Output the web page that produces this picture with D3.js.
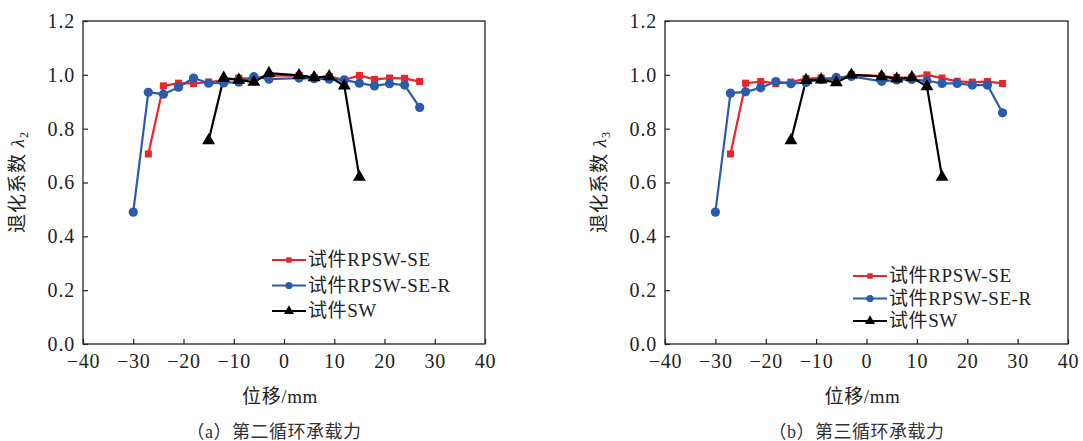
<!DOCTYPE html>
<html><head><meta charset="utf-8">
<script src="https://cdn.jsdelivr.net/npm/d3@7/dist/d3.min.js"></script>
<style>
body{margin:0;background:#fff;}
svg{display:block;}
</style></head>
<body><svg id="c" width="1083" height="441"></svg>
<script>
// ---- data ----
const xSE   = [-27,-24,-21,-18,-15,-12,-9,-6,-3,3,6,9,12,15,18,21,24,27];
const xSER  = [-30,-27,-24,-21,-18,-15,-12,-9,-6,-3,3,6,9,12,15,18,21,24,27];
const xSW   = [-15,-12,-9,-6,-3,3,6,9,12,15];
// (a) second cycle, lambda2
const a_SE  = [0.706,0.959,0.969,0.968,0.973,0.980,0.988,0.985,0.997,0.998,0.990,0.994,0.981,0.998,0.983,0.988,0.987,0.975];
const a_SER = [0.490,0.935,0.928,0.954,0.988,0.969,0.970,0.973,0.993,0.984,0.988,0.986,0.984,0.981,0.969,0.959,0.967,0.962,0.879];
const a_SW  = [0.756,0.988,0.981,0.973,1.006,0.998,0.990,0.994,0.959,0.620];
// (b) third cycle, lambda3
const b_SE  = [0.706,0.969,0.975,0.968,0.973,0.986,0.988,0.982,1.000,0.995,0.990,0.991,1.000,0.988,0.976,0.973,0.975,0.968];
const b_SER = [0.490,0.932,0.937,0.952,0.975,0.967,0.972,0.983,0.990,0.994,0.976,0.981,0.983,0.978,0.968,0.968,0.962,0.962,0.859];
const b_SW  = [0.756,0.980,0.982,0.971,1.000,0.994,0.985,0.990,0.957,0.620];
const xTicks = [-40,-30,-20,-10,0,10,20,30,40];
const yTicks = [0.0,0.2,0.4,0.6,0.8,1.0,1.2];
const seriesNames = ["试件RPSW-SE","试件RPSW-SE-R","试件SW"];
const colors = ["#e8262b","#2b5cab","#000000"];
const captions = ["（a）第二循环承载力","（b）第三循环承载力"];
const ySub = ["2","3"];

const FONT = "'Liberation Serif', 'Noto Sans CJK SC'";
const svg = d3.select("#c");
const sym = [d3.symbolSquare, d3.symbolCircle, d3.symbolTriangle];
const symSize = [50, 68, 72];

function txt(sel, size, ls){
  return sel.style("font-family", FONT)
    .style("font-size", size+"px").style("letter-spacing", (ls||0)+"px").attr("fill","#222");
}

function panel(opt){
  const x = d3.scaleLinear().domain([-40,40]).range([opt.x0, opt.x1]);
  const y = d3.scaleLinear().domain([0,1.2]).range([344, 21]);
  const g = svg.append("g");
  g.append("rect").attr("x",opt.x0).attr("y",y(1.2)).attr("width",opt.x1-opt.x0).attr("height",y(0)-y(1.2))
    .attr("fill","none").attr("stroke","#222").attr("stroke-width",1.3);
  const ax = g.append("g").attr("transform",`translate(0,${y(0)})`)
    .call(d3.axisBottom(x).tickValues(xTicks).tickSizeInner(-5).tickSizeOuter(0).tickPadding(10)
      .tickFormat(d=> d<0 ? "\u2212"+Math.abs(d) : d));
  const ay = g.append("g").attr("transform",`translate(${opt.x0},0)`)
    .call(d3.axisLeft(y).tickValues(yTicks).tickSizeInner(-5).tickSizeOuter(0).tickPadding(8)
      .tickFormat(d3.format(".1f")));
  [ax,ay].forEach(a=>{
    a.attr("font-family", null).attr("font-size", null);
    a.select(".domain").remove();
    a.selectAll("line").attr("stroke","#222").attr("stroke-width",1.2);
    txt(a.selectAll("text"), 20, 0.8);
  });
  const sets = [[xSE,opt.se],[xSER,opt.ser],[xSW,opt.sw]];
  const line = d3.line().x(d=>x(d[0])).y(d=>y(d[1]));
  sets.forEach((s,i)=>{
    const pts = s[0].map((v,k)=>[v,s[1][k]]);
    g.append("path").datum(pts).attr("d",line).attr("fill","none")
      .attr("stroke",colors[i]).attr("stroke-width",2.2);
  });
  sets.forEach((s,i)=>{
    const pts = s[0].map((v,k)=>[v,s[1][k]]);
    g.selectAll(null).data(pts).enter().append("path")
      .attr("d",d3.symbol().type(sym[i]).size(symSize[i]))
      .attr("transform",d=>`translate(${x(d[0])},${y(d[1])})`)
      .attr("fill",colors[i]);
  });
  seriesNames.forEach((n,i)=>{
    const ly = opt.ly + i*opt.lsp;
    g.append("line").attr("x1",opt.lx).attr("x2",opt.lx+34).attr("y1",ly).attr("y2",ly)
      .attr("stroke",colors[i]).attr("stroke-width",2.2);
    g.append("path").attr("d",d3.symbol().type(sym[i]).size(symSize[i]*0.6))
      .attr("transform",`translate(${opt.lx+17},${ly})`).attr("fill",colors[i]);
    txt(g.append("text").attr("x",opt.lx+36).attr("y",ly+6).text(n), 19, 0.6);
  });
  const cx = (opt.x0+opt.x1)/2;
  txt(g.append("text").attr("x",cx-4).attr("y",403).attr("text-anchor","middle").text("位移/mm"), 19, 0.6);
  const yl = txt(g.append("text").attr("transform",`translate(${opt.ylx},182) rotate(-90)`)
    .attr("text-anchor","middle"), 19, 1);
  yl.append("tspan").text("退化系数 ");
  yl.append("tspan").style("font-style","italic").text("λ");
  yl.append("tspan").attr("dy",4).style("font-size","12px").text(opt.sub);
  txt(g.append("text").attr("x",cx-10).attr("y",438).attr("text-anchor","middle").text(opt.cap), 18, 0.5)
    .attr("fill","#333");
}

panel({x0:83,x1:485,se:a_SE,ser:a_SER,sw:a_SW,lx:272,ly:260,lsp:25.5,ylx:24,sub:ySub[0],cap:captions[0]});
panel({x0:665,x1:1068,se:b_SE,ser:b_SER,sw:b_SW,lx:853,ly:276,lsp:22.5,ylx:606,sub:ySub[1],cap:captions[1]});
</script></body></html>
